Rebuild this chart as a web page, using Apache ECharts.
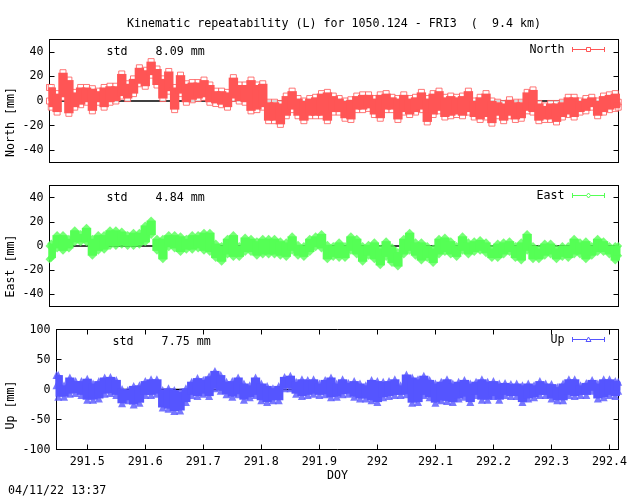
<!DOCTYPE html>
<html>
<head>
<meta charset="utf-8">
<style>html,body{margin:0;padding:0;background:#fff}#main{width:640px;height:496px}</style>
<script src="https://cdn.jsdelivr.net/npm/echarts@6/dist/echarts.min.js"></script>
</head>
<body>
<div id="main"></div>
<script>
var doy = [291.447,
  291.45,291.46,291.47,291.48,291.49,291.50,291.51,291.52,291.53,291.54,
  291.55,291.56,291.57,291.58,291.59,291.60,291.61,291.62,291.63,291.64,
  291.65,291.66,291.67,291.68,291.69,291.70,291.71,291.72,291.73,291.74,
  291.75,291.76,291.77,291.78,291.79,291.80,291.81,291.82,291.83,291.84,
  291.85,291.86,291.87,291.88,291.89,291.90,291.91,291.92,291.93,291.94,
  291.95,291.96,291.97,291.98,291.99,292.00,292.01,292.02,292.03,292.04,
  292.05,292.06,292.07,292.08,292.09,292.10,292.11,292.12,292.13,292.14,
  292.15,292.16,292.17,292.18,292.19,292.20,292.21,292.22,292.23,292.24,
  292.25,292.26,292.27,292.28,292.29,292.30,292.31,292.32,292.33,292.34,
  292.35,292.36,292.37,292.38,292.39,292.40,292.41,292.415];
// upper and lower edge of the scatter band
var northHi = [11,
  11,6,23,17,7,11,11,10,8,11,
  12,12,22,14,18,27,25,32,26,18,
  24,11,21,14,15,15,17,13,8,8,
  7,19,13,13,17,13,14,-1,-1,-2,
  4,8,2,0,2,3,6,7,4,2,
  0,1,4,5,5,2,5,6,3,2,
  5,2,3,7,2,6,8,3,4,3,
  4,8,0,3,6,0,-1,-2,1,-1,
  -1,7,9,-2,-4,-2,-2,-1,3,3,
  0,2,3,0,4,5,6,-1];
var northLo = [0,
  -5,-9,3,-10,-5,-3,-1,-8,-1,-5,
  -1,0,4,2,6,14,12,21,13,2,
  8,-7,6,-1,1,2,3,-1,-2,-3,
  -5,2,0,-1,-8,-7,-5,-16,-16,-19,
  -12,-7,-12,-16,-12,-12,-12,-16,-9,-9,
  -14,-15,-7,-7,-6,-11,-14,-7,-7,-15,
  -9,-11,-9,-7,-17,-11,-8,-13,-12,-11,
  -12,-9,-13,-15,-13,-18,-12,-16,-12,-15,
  -14,-8,-9,-16,-15,-15,-17,-13,-11,-13,
  -9,-8,-5,-12,-9,-7,-6,-5];
var eastHi = [0,
  2,9,9,6,13,10,15,6,9,9,
  13,13,12,9,11,11,17,21,6,6,
  9,9,8,6,9,9,11,11,2,0,
  6,9,0,7,6,4,6,6,6,4,
  3,8,1,0,6,8,10,1,0,3,
  0,8,6,0,1,3,-2,4,-1,-5,
  6,11,3,3,0,-2,6,7,4,0,
  8,3,4,5,3,-2,2,3,4,0,
  3,10,0,-2,2,2,-2,0,0,6,
  3,4,0,6,4,0,0,0];
var eastLo = [-11,
  -10,-2,-4,-2,3,3,3,-8,-4,-3,
  0,0,1,0,0,1,3,9,-4,-11,
  -1,-2,-5,-3,-3,-2,-4,-5,-10,-13,
  -7,-9,-9,-5,-5,-8,-7,-7,-7,-8,
  -9,-4,-8,-9,-5,-1,-2,-11,-9,-10,
  -10,-4,-7,-13,-8,-11,-16,-9,-14,-17,
  -7,-4,-8,-12,-10,-14,-7,-5,-7,-9,
  -4,-7,-5,-4,-6,-10,-10,-7,-5,-10,
  -12,-4,-11,-11,-8,-7,-11,-9,-10,-7,
  -7,-11,-8,-5,-5,-7,-12,-8];
var upHi = [24,
  24,7,20,14,14,18,10,14,20,21,
  16,1,-1,6,7,14,17,17,-1,2,
  -1,-4,2,13,19,16,22,31,24,13,
  14,20,10,7,20,10,6,2,6,21,
  23,13,17,16,17,10,16,20,10,17,
  11,14,10,7,16,14,13,14,17,7,
  25,20,17,23,16,10,13,17,10,13,
  16,10,13,17,13,14,10,11,9,10,
  7,10,7,14,10,9,4,10,17,17,
  7,11,16,10,17,17,14,13];
var upLo = [7,
  -12,-12,-7,-6,-9,-17,-17,-15,-7,-6,
  -9,-23,-18,-25,-22,-9,-9,-7,-30,-32,
  -36,-35,-21,-9,-11,-7,-11,2,-2,-8,
  -12,-8,-17,-13,-9,-18,-21,-18,-18,2,
  2,-7,-11,-9,-7,-9,-8,-13,-12,-8,
  -7,-12,-15,-15,-18,-21,-13,-11,-9,-9,
  -8,-22,-21,-9,-13,-22,-18,-19,-21,-15,
  -12,-21,-9,-17,-17,-11,-17,-9,-11,-11,
  -21,-15,-13,-9,-9,-15,-18,-18,-9,-11,
  -9,-9,-2,-15,-13,-9,-11,-2];
var doyTicks = [291.5,291.6,291.7,291.8,291.9,292,292.1,292.2,292.3,292.4];
var smallTicks = [-40,-20,0,20,40];
var upTicks = [-100,-50,0,50,100];

var font = '"DejaVu Sans Mono", monospace';
var fontSize = 11.67;
var xMin = 291.447, xMax = 292.4155;

function pairs(xs, ys) {
    return xs.map(function(x, i) { return [x, ys[i]]; });
}

function bandData(hi, lo) {
    return doy.map(function(x, i) { return [x, hi[i], lo[i]]; });
}

// one filled block per epoch, wide enough to close the gaps between neighbours
function makeBand(xLeft, xRight) {
    return function(params, api) {
        var top = api.coord([api.value(0), api.value(1)]);
        var bottom = api.coord([api.value(0), api.value(2)]);
        var halfStep = api.size([0.01, 0])[0] * 0.8;
        var x1 = Math.max(top[0] - halfStep, xLeft - 1);
        var x2 = Math.min(top[0] + halfStep, xRight + 2);
        return {
            type: 'rect',
            shape: { x: x1, y: top[1], width: x2 - x1, height: bottom[1] - top[1] },
            style: { fill: api.visual('color') }
        };
    };
}

var panels = [
    { top: 39.5, height: 123, left: 49.5, min: -50, max: 50, ticks: smallTicks, hi: northHi, lo: northLo, color: '#ff5555', symbol: 'rect', size: 6, hollow: true },
    { top: 185.5, height: 121, left: 49.5, min: -50, max: 50, ticks: smallTicks, hi: eastHi, lo: eastLo, color: '#55ff55', symbol: 'diamond', size: 8 },
    { top: 329.5, height: 120, left: 56.5, min: -100, max: 100, ticks: upTicks, hi: upHi, lo: upLo, color: '#5555ff', symbol: 'triangle', size: 8 }
];

var grid = [], xAxis = [], yAxis = [], series = [];
var black = '#000';
panels.forEach(function(p, n) {
    var last = n === panels.length - 1;
    grid.push({ left: p.left, top: p.top, width: 618.5 - p.left, height: p.height, show: false, outerBoundsMode: 'none' });
    [0, 1].forEach(function(side) {
        xAxis.push({
            type: 'value', gridIndex: n, min: xMin, max: xMax,
            position: side ? 'top' : 'bottom',
            splitLine: { show: false },
            axisLine: { show: true, onZero: false, lineStyle: { color: black, width: 1 } },
            axisTick: { show: last, inside: true, length: 5, customValues: doyTicks, lineStyle: { color: black } },
            axisLabel: {
                show: last && !side, customValues: doyTicks, margin: 6,
                fontFamily: font, fontSize: fontSize, color: black,
                formatter: function(v) { return String(Math.round(v * 10) / 10); }
            }
        });
        yAxis.push({
            type: 'value', gridIndex: n, min: p.min, max: p.max,
            position: side ? 'right' : 'left',
            splitLine: { show: false },
            axisLine: { show: true, onZero: false, lineStyle: { color: black, width: 1 } },
            axisTick: { show: true, inside: true, length: 5, customValues: p.ticks, lineStyle: { color: black } },
            axisLabel: {
                show: !side, customValues: p.ticks, margin: 6,
                fontFamily: font, fontSize: fontSize, color: black
            }
        });
    });
    var axisIdx = n * 2;
    series.push({
        type: 'line', xAxisIndex: axisIdx, yAxisIndex: axisIdx,
        data: [[xMin, 0], [xMax, 0]], showSymbol: false, silent: true, z: 1,
        lineStyle: { color: black, width: 1.5 }, animation: false
    });
    series.push({
        type: 'custom', xAxisIndex: axisIdx, yAxisIndex: axisIdx,
        data: bandData(p.hi, p.lo), renderItem: makeBand(p.left, 618.5), clip: false, z: 3,
        itemStyle: { color: p.color }, silent: true, animation: false
    });
    [p.hi, p.lo].forEach(function(edge) {
        series.push({
            type: 'scatter', xAxisIndex: axisIdx, yAxisIndex: axisIdx,
            data: pairs(doy, edge), symbol: p.symbol, symbolSize: p.size,
            clip: false, z: 2, silent: true, animation: false,
            itemStyle: p.hollow
                ? { color: '#fff', borderColor: p.color, borderWidth: 1 }
                : { color: p.color }
        });
    });
});

function label(x, y, text) {
    return { type: 'text', x: x, y: y, style: { text: text, fontFamily: font, fontSize: fontSize, fill: black, textVerticalAlign: 'middle' } };
}

function sideLabel(y, text) {
    return { type: 'text', x: 11, y: y, rotation: Math.PI / 2, style: { text: text, fontFamily: font, fontSize: fontSize, fill: black, textAlign: 'center', textVerticalAlign: 'middle' } };
}

function legendKey(y, name, color, symbol) {
    var parts = [
        { type: 'text', x: 564.5, y: y, style: { text: name, fontFamily: font, fontSize: fontSize, fill: black, textAlign: 'right', textVerticalAlign: 'middle' } },
        { type: 'line', shape: { x1: 572.5, y1: y, x2: 604.5, y2: y }, style: { stroke: color, lineWidth: 1 } },
        { type: 'line', shape: { x1: 572.5, y1: y - 2.5, x2: 572.5, y2: y + 2.5 }, style: { stroke: color, lineWidth: 1 } },
        { type: 'line', shape: { x1: 604.5, y1: y - 2.5, x2: 604.5, y2: y + 2.5 }, style: { stroke: color, lineWidth: 1 } }
    ];
    parts.push({ type: 'polygon', shape: { points: symbol.map(function(q) { return [588.5 + q[0], y + q[1]]; }) }, style: { fill: '#fff', stroke: color, lineWidth: 1 } });
    return parts;
}

var square = [[-2, -2], [2, -2], [2, 2], [-2, 2]];
var diamond = [[0, -2.5], [2, 0], [0, 2.5], [-2, 0]];
var triangle = [[0, -2.5], [2.5, 2], [-2.5, 2]];

var graphics = [
    label(127, 23.5, 'Kinematic repeatability (L) for 1050.124 - FRI3  (  9.4 km)'),
    label(106.5, 52, 'std    8.09 mm'),
    label(106.5, 197.5, 'std    4.84 mm'),
    label(112.5, 341.5, 'std    7.75 mm'),
    label(327, 476, 'DOY'),
    label(8, 491, '04/11/22 13:37'),
    sideLabel(122, 'North [mm]'),
    sideLabel(266, 'East [mm]'),
    sideLabel(405, 'Up [mm]')
].concat(legendKey(49.5, 'North', '#ff5555', square), legendKey(195.5, 'East', '#55ff55', diamond), legendKey(339.5, 'Up', '#5555ff', triangle));

var chart = echarts.init(document.getElementById('main'), null, { renderer: 'canvas' });
chart.setOption({
    animation: false,
    backgroundColor: '#fff',
    grid: grid,
    xAxis: xAxis,
    yAxis: yAxis,
    series: series,
    graphic: graphics
});
</script>
</body>
</html>
